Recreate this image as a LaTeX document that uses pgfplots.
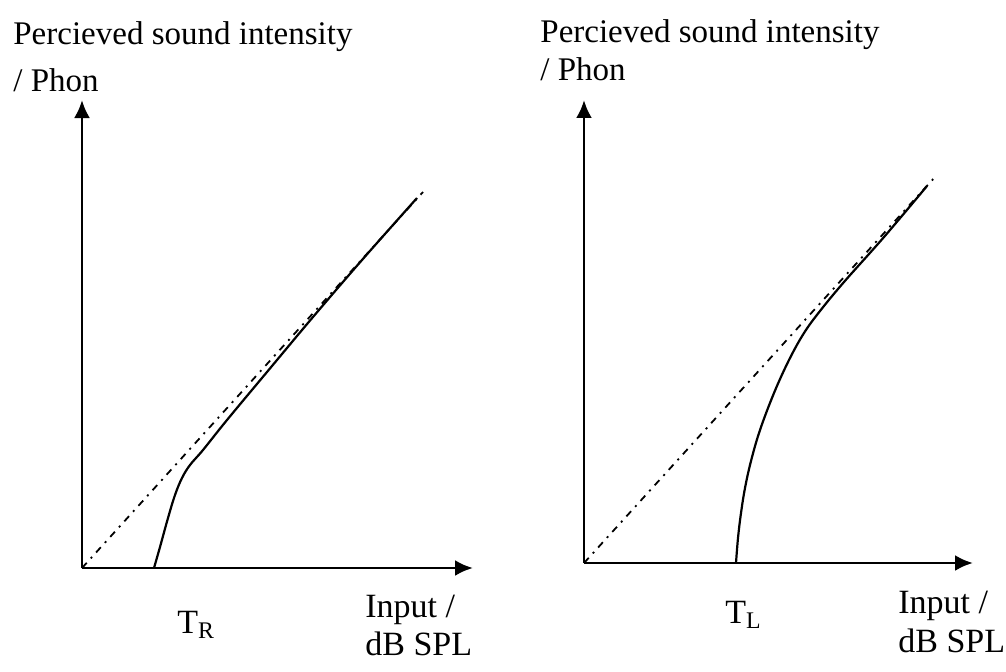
\documentclass[border=0pt]{standalone}
\usepackage{fontspec}
\setmainfont{Liberation Serif}
\usepackage{pgfplots}
\pgfplotsset{compat=1.18}
\usetikzlibrary{arrows.meta}
\begin{document}
\begin{tikzpicture}[x=0.5pt,y=0.5pt]
\useasboundingbox (0,0) rectangle (1006,671);
\pgfplotsset{
  myaxis/.style={
    x=0.5pt, y=0.5pt, xmin=0, ymin=0,
    axis lines=left, ticks=none, clip=false,
    axis line style={line width=1.4pt, -{Latex[length=9pt,width=8pt]}},
    anchor=south west,
  },
  diag/.style={black, line width=0.9pt, dash pattern=on 3.5pt off 3pt on 1pt off 3pt},
  resp/.style={black, line width=1.1pt, smooth, tension=0.6},
}
% Left panel
\begin{axis}[myaxis, at={(82,103)}, xmax=391, ymax=468]
\addplot[diag] coordinates {(0,0) (341,376)};
\addplot[resp] coordinates {(72,0) (78,21) (86,50) (93,73) (100,90) (108,103) (121,118) (145,148) (190,202) (231,251) (280,308) (335,370)};
\end{axis}
% Right panel
\begin{axis}[myaxis, at={(584,108)}, xmax=389, ymax=463]
\addplot[diag] coordinates {(0,0) (351,386)};
\addplot[resp] coordinates {(152,0) (154,25) (157,50) (161,75) (167,102) (176,133) (190,170) (205,203) (220,230) (236,252) (260,281) (300,326) (343,377)};
\end{axis}
\fontsize{16.5pt}{19pt}\selectfont
\node[anchor=base west, inner sep=0pt] at (13,626) {Percieved sound intensity};
\node[anchor=base west, inner sep=0pt] at (13,580) {/ Phon};
\node[anchor=base west, inner sep=0pt] at (540,628) {Percieved sound intensity};
\node[anchor=base west, inner sep=0pt] at (540,590) {/ Phon};
\fontsize{17pt}{20pt}\selectfont
\node[anchor=base west, inner sep=0pt] at (177,38) {T\textsubscript{R}};
\node[anchor=base west, inner sep=0pt] at (365,54) {Input /};
\node[anchor=base west, inner sep=0pt] at (365,16) {dB SPL};
\node[anchor=base west, inner sep=0pt] at (725,48) {T\textsubscript{L}};
\node[anchor=base west, inner sep=0pt] at (898,58) {Input /};
\node[anchor=base west, inner sep=0pt] at (898,19) {dB SPL};
\end{tikzpicture}
\end{document}
